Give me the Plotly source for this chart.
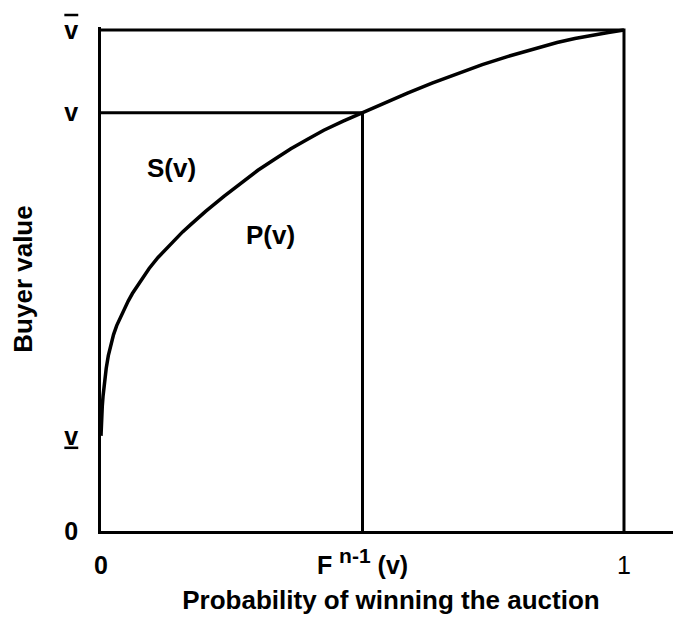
import plotly.graph_objects as go

# Data
curve_x = [0, 0.001, 0.0025, 0.004, 0.007, 0.01, 0.014, 0.019, 0.024, 0.03, 0.037, 0.044, 0.052, 0.06, 0.068,
           0.076, 0.092, 0.109, 0.125, 0.14, 0.156, 0.172, 0.2, 0.235, 0.268, 0.300, 0.332, 0.363, 0.395,
           0.426, 0.463, 0.5, 0.543, 0.586, 0.633, 0.681, 0.729, 0.777, 0.825, 0.872, 0.906, 0.94, 0.97, 1.0]
curve_y = [0.19, 0.225, 0.25, 0.27, 0.3, 0.325, 0.35, 0.372, 0.392, 0.41, 0.427, 0.443, 0.459, 0.474, 0.487,
           0.5, 0.524, 0.546, 0.564, 0.581, 0.597, 0.612, 0.638, 0.668, 0.695, 0.72, 0.742, 0.763, 0.782,
           0.800, 0.818, 0.835, 0.855, 0.874, 0.894, 0.913, 0.931, 0.947, 0.962, 0.975, 0.983, 0.99, 0.995, 1.0]

v_low = 0.19
v_mid = 0.835
v_high = 1.0
p_mid = 0.5
p_max = 1.0

x_tickvals = [0, p_mid, p_max]
x_ticktext = ["<b>0</b>", "<b>F <sup><span style='font-size:21px'>n-1</span></sup> (v)</b>", "1"]
y_tickvals = [0, v_low, v_mid, v_high]
y_ticktext = ["<b>0</b>",
              "<b><span style='text-decoration:underline'>v</span></b>",
              "<b>v</b>",
              "<b><span style='text-decoration:overline'>v</span></b>"]

FONT = "Liberation Sans, Arial, sans-serif"
LINE = dict(color="black", width=3)

fig = go.Figure()
# frame lines
fig.add_trace(go.Scatter(x=[0, p_max, p_max], y=[v_high, v_high, 0], mode="lines", line=LINE, hoverinfo="skip"))
fig.add_trace(go.Scatter(x=[0, p_mid, p_mid], y=[v_mid, v_mid, 0], mode="lines", line=LINE, hoverinfo="skip"))
# curve
fig.add_trace(go.Scatter(x=curve_x, y=curve_y, mode="lines",
                         line=dict(color="black", width=3.5), hoverinfo="skip"))

fig.add_annotation(x=0.135, y=0.725, text="<b>S(v)</b>", showarrow=False, font=dict(family=FONT, size=26, color="black"))
fig.add_annotation(x=0.324, y=0.59, text="<b>P(v)</b>", showarrow=False, font=dict(family=FONT, size=26, color="black"))

fig.update_layout(
    width=681, height=618,
    margin=dict(l=92, r=8, t=12, b=95),
    plot_bgcolor="white", paper_bgcolor="white",
    showlegend=False,
    font=dict(family=FONT, size=25, color="black"),
    xaxis=dict(range=[0, 1.109], tickvals=x_tickvals, ticktext=x_ticktext,
               showgrid=False, zeroline=False, showline=True, linecolor="black", linewidth=2.5,
               ticks="", ticklabelstandoff=10,
               title=dict(text="<b>Probability of winning the auction</b>", standoff=14,
                          font=dict(family=FONT, size=26))),
    yaxis=dict(range=[0, 1.006], tickvals=y_tickvals, ticktext=y_ticktext,
               showgrid=False, zeroline=False, showline=True, linecolor="black", linewidth=2.5,
               ticks="", ticklabelstandoff=15,
               title=dict(text="<b>Buyer value</b>", standoff=30,
                          font=dict(family=FONT, size=26))),
)

fig.write_html("out.html")
